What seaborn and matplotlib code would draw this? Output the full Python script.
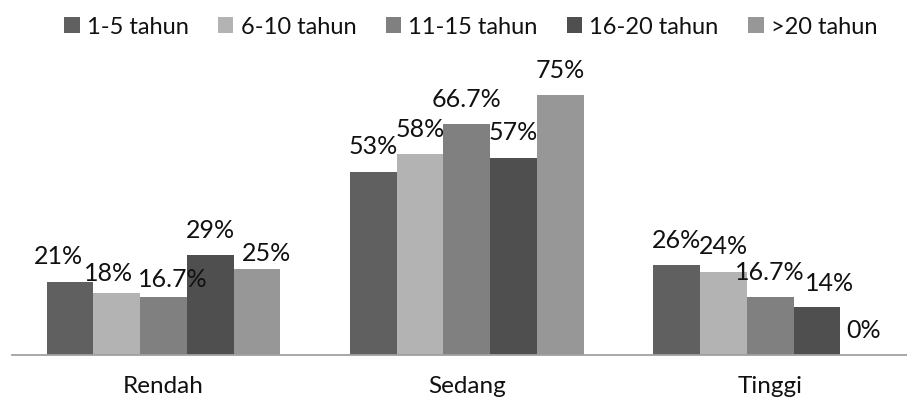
import matplotlib
matplotlib.use("Agg")
import matplotlib.pyplot as plt
import seaborn as sns
import pandas as pd

sns.set_theme(style="white")
plt.rcParams["font.family"] = ["Lato", "DejaVu Sans"]

categories = ["Rendah", "Sedang", "Tinggi"]
groups = ["1-5 tahun", "6-10 tahun", "11-15 tahun", "16-20 tahun", ">20 tahun"]
values = {
    "1-5 tahun":   [21, 53, 26],
    "6-10 tahun":  [18, 58, 24],
    "11-15 tahun": [16.7, 66.7, 16.7],
    "16-20 tahun": [29, 57, 14],
    ">20 tahun":   [25, 75, 0],
}
labels = {
    "1-5 tahun":   ["21%", "53%", "26%"],
    "6-10 tahun":  ["18%", "58%", "24%"],
    "11-15 tahun": ["16.7%", "66.7%", "16.7%"],
    "16-20 tahun": ["29%", "57%", "14%"],
    ">20 tahun":   ["25%", "75%", "0%"],
}
colors = ["#606060", "#b3b3b3", "#808080", "#4f4f4f", "#979797"]

# pixel nudges for a few labels (dx, dy above bar top)
nudges = {
    ("1-5 tahun", 0): (-12, 26), ("6-10 tahun", 0): (-8, 19),
    ("11-15 tahun", 0): (9, 18), ("16-20 tahun", 0): (0, 24),
    (">20 tahun", 0): (10, 15), ("16-20 tahun", 2): (13, 23),
}

rows = []
for g in groups:
    for c, v in zip(categories, values[g]):
        rows.append({"kategori": c, "masa": g, "persen": v})
df = pd.DataFrame(rows)

W, H = 907, 403
fig = plt.figure(figsize=(W / 100, H / 100), dpi=100)
ax = fig.add_axes([12 / W, (H - 355) / H, (907 - 12) / W, (355 - 78.2) / H])

sns.barplot(data=df, x="kategori", y="persen", hue="masa", order=categories,
            hue_order=groups, palette=colors, width=0.77, linewidth=0,
            saturation=1, ax=ax, legend=True)

ax.set_ylim(0, 80)
ax.set_xlim(-0.4995, 2.451)
for s in ["top", "right", "left"]:
    ax.spines[s].set_visible(False)
ax.spines["bottom"].set_color("#a0a0a0")
ax.spines["bottom"].set_linewidth(1.3)
ax.set_yticks([])
ax.set_xlabel("")
ax.set_ylabel("")
ax.tick_params(axis="x", length=0, pad=15, labelsize=17.5, labelcolor="#111111")

for g, cont in zip(groups, ax.containers):
    for i, bar in enumerate(cont):
        dx, dy = nudges.get((g, i), (0, 25))
        x = bar.get_x() + bar.get_width() / 2
        ax.annotate(labels[g][i], (x, bar.get_height()), xytext=(dx, dy),
                    textcoords="offset pixels", ha="center", va="center",
                    fontsize=18, color="#111111")

handles, lbls = ax.get_legend_handles_labels()
ax.get_legend().remove()
fig.legend(handles, lbls, loc="center", bbox_to_anchor=(0.519, 1 - 27 / H),
           ncol=5, frameon=False, fontsize=17, handlelength=0.65,
           handleheight=0.65, handletextpad=0.3, columnspacing=1.25,
           labelcolor="#111111")

fig.savefig("out.png", dpi=100)
